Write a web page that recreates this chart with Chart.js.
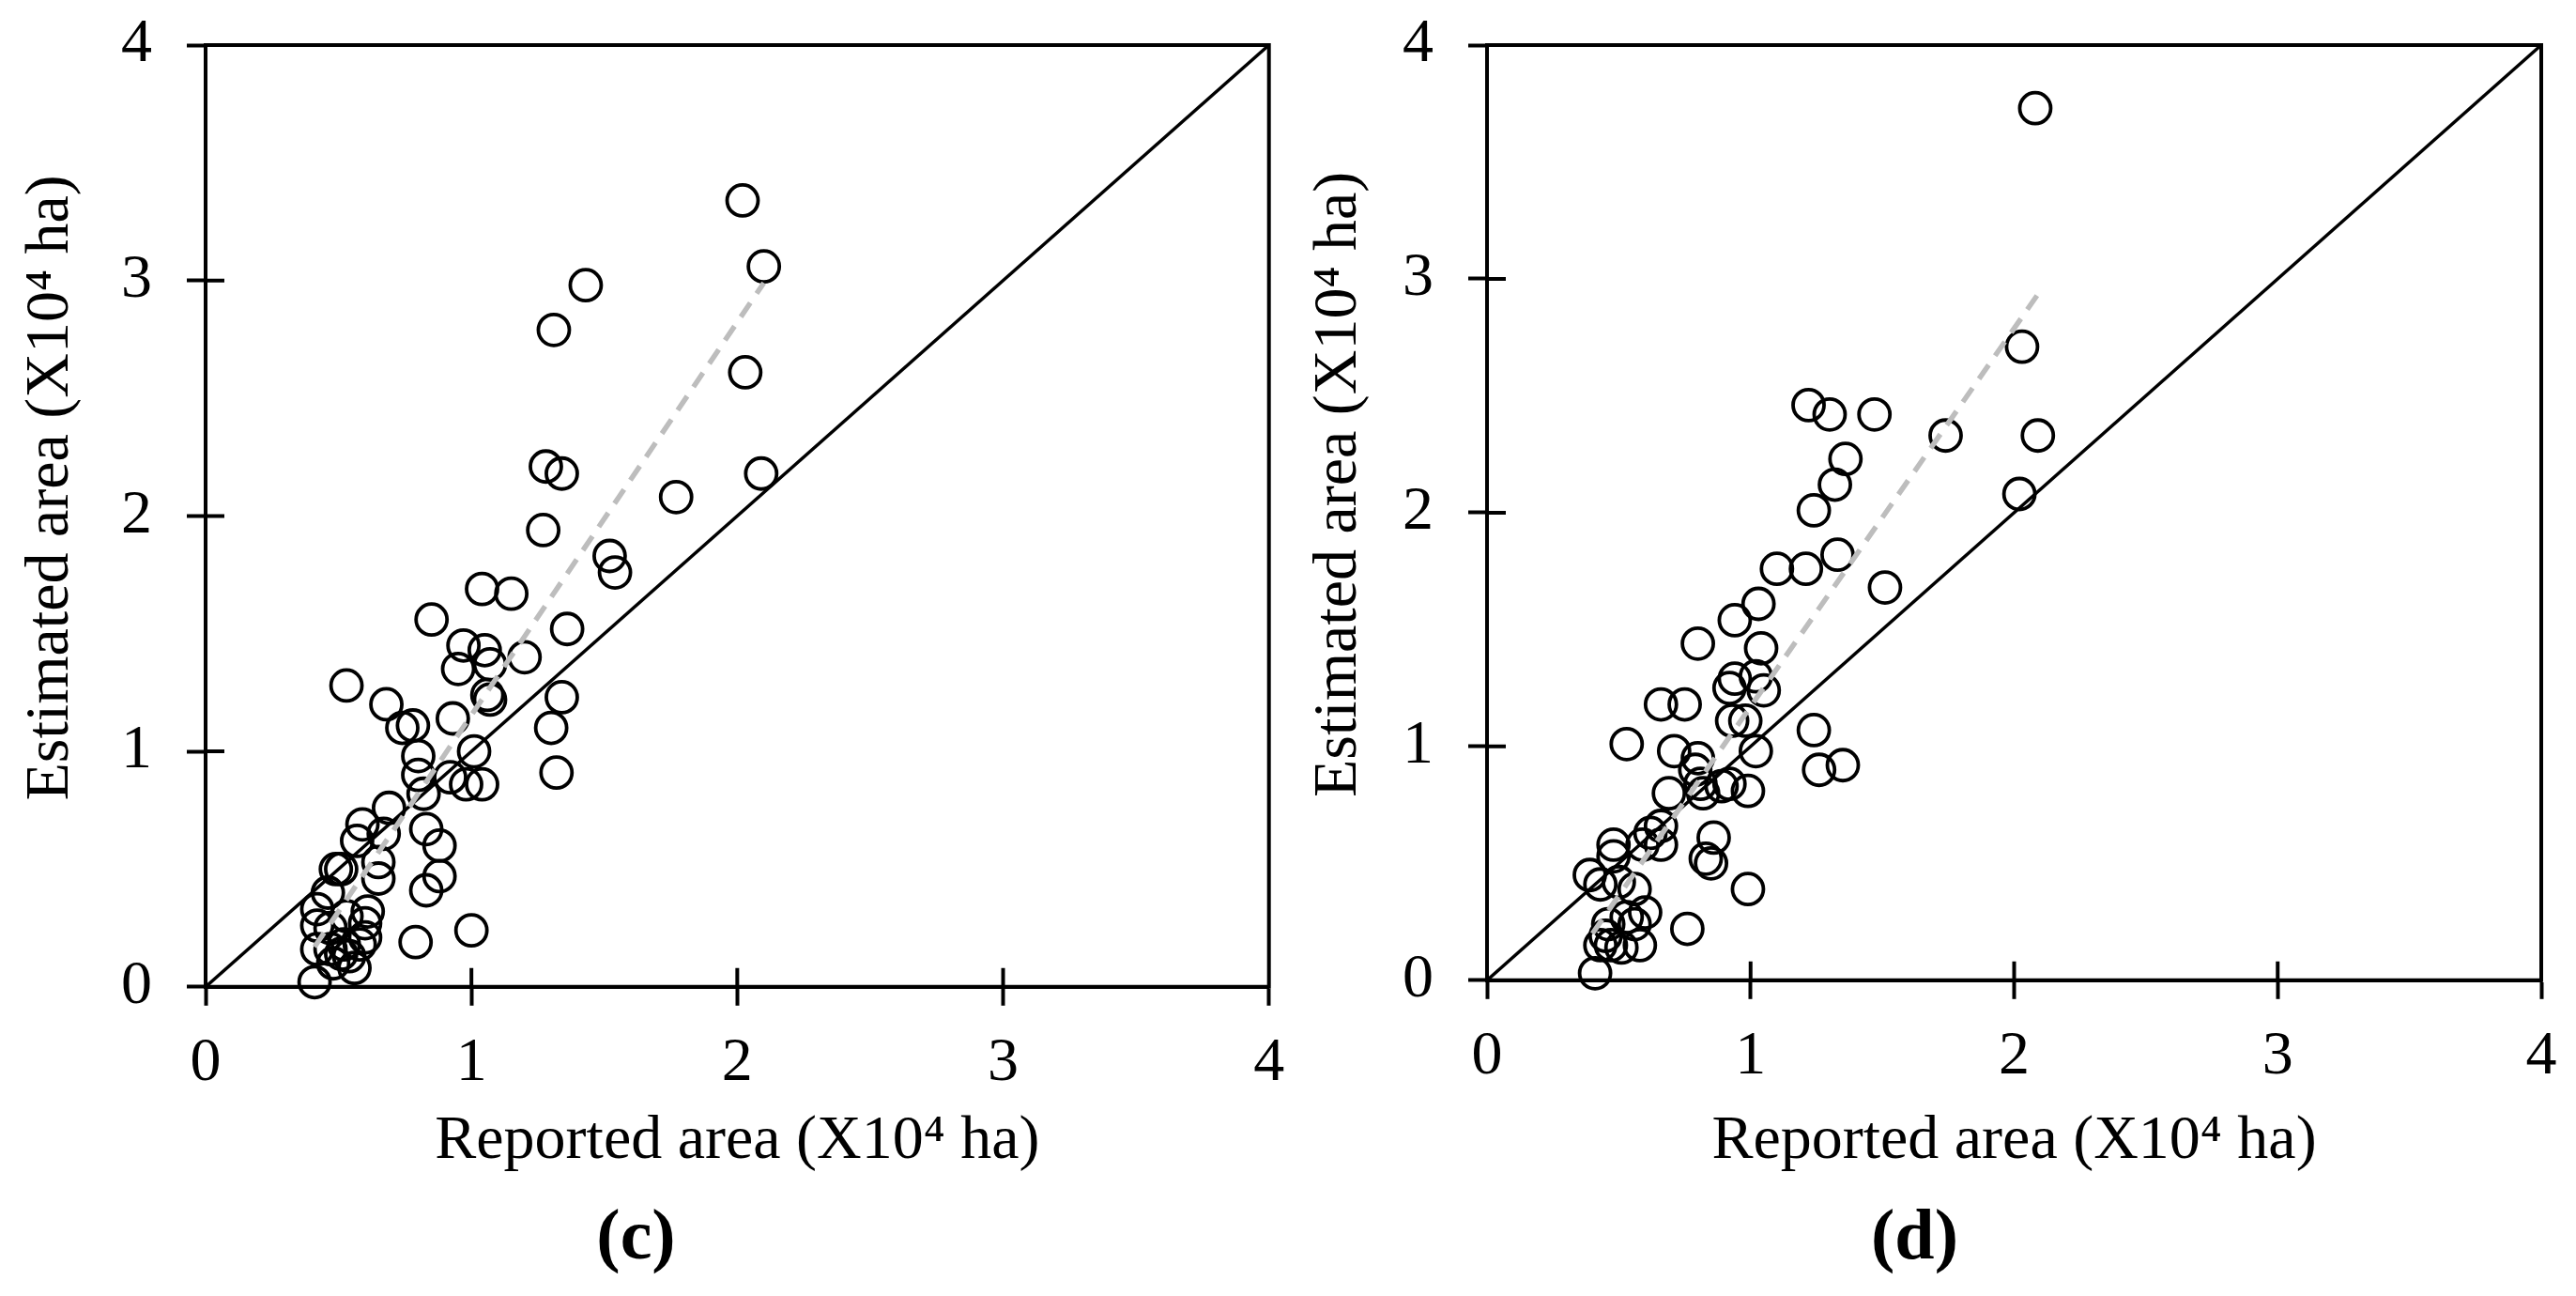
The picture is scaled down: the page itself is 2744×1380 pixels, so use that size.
<!DOCTYPE html>
<html>
<head>
<meta charset="utf-8">
<title>Reported vs estimated area</title>
<script src="https://cdn.jsdelivr.net/npm/chart.js@4.4.1/dist/chart.umd.min.js"></script>
<style>
  html, body { margin: 0; padding: 0; background: #fff; }
  .wrap { display: flex; width: 2744px; height: 1380px; }
  canvas { display: block; }
</style>
</head>
<body>
<div class="wrap">
  <canvas id="chartC" width="1372" height="1380"></canvas>
  <canvas id="chartD" width="1372" height="1380"></canvas>
</div>
<script>
// panel (c)
const reportedC = [2.02, 2.10, 1.43, 1.31, 2.03, 1.28, 1.34, 2.09, 1.77, 1.27,
  1.52, 1.54, 1.04, 1.15, 0.85, 1.36, 0.97, 1.05, 0.95, 1.07,
  1.20, 0.53, 1.06, 1.07, 1.34, 0.68, 0.93, 0.78, 0.74, 1.30,
  0.80, 1.01, 1.32, 0.80, 0.92, 0.98, 1.04, 0.82, 0.69, 0.83,
  0.59, 0.67, 0.57, 0.88, 0.65, 0.65, 0.51, 0.49, 0.88, 0.83,
  0.46, 0.42, 0.61, 0.42, 0.60, 1.00, 0.79, 0.42, 0.47, 0.52,
  0.58, 0.60, 0.51, 0.54, 0.48, 0.56, 0.41, 0.47, 0.53];
const estimatedC = [3.34, 3.06, 2.98, 2.79, 2.61, 2.21, 2.18, 2.18, 2.08, 1.94,
  1.83, 1.76, 1.69, 1.67, 1.56, 1.52, 1.45, 1.43, 1.35, 1.37,
  1.40, 1.28, 1.24, 1.22, 1.23, 1.20, 1.14, 1.11, 1.10, 1.10,
  0.98, 1.00, 0.91, 0.90, 0.89, 0.86, 0.86, 0.82, 0.76, 0.67,
  0.69, 0.65, 0.62, 0.60, 0.53, 0.46, 0.50, 0.50, 0.47, 0.41,
  0.40, 0.33, 0.32, 0.26, 0.27, 0.24, 0.19, 0.16, 0.16, 0.18,
  0.18, 0.21, 0.14, 0.13, 0.10, 0.08, 0.02, 0.25, 0.30];
const fitXC = [0.41, 2.10];
const fitYC = [0.17, 2.99];

// panel (d)
const reportedD = [2.08, 2.03, 1.22, 1.30, 1.47, 1.74, 2.09, 1.36, 1.32, 1.24,
  2.02, 1.10, 1.21, 1.33, 1.51, 1.03, 0.94, 0.80, 1.04, 0.94,
  1.02, 0.92, 1.05, 0.66, 0.75, 0.93, 0.98, 1.24, 0.53, 1.02,
  0.71, 0.80, 0.79, 1.26, 1.35, 0.81, 0.92, 0.89, 0.99, 0.82,
  0.69, 0.66, 0.62, 0.66, 0.59, 0.48, 0.48, 0.86, 0.83, 0.85,
  0.39, 0.43, 0.50, 0.56, 0.99, 0.60, 0.53, 0.56, 0.46, 0.76,
  0.45, 0.43, 0.47, 0.51, 0.58, 0.41];
const estimatedD = [3.73, 2.71, 2.46, 2.42, 2.42, 2.33, 2.33, 2.23, 2.12, 2.01,
  2.08, 1.76, 1.76, 1.82, 1.68, 1.61, 1.54, 1.44, 1.42, 1.29,
  1.30, 1.25, 1.24, 1.18, 1.18, 1.11, 1.11, 1.07, 1.01, 0.98,
  0.98, 0.95, 0.90, 0.90, 0.92, 0.84, 0.84, 0.83, 0.81, 0.80,
  0.80, 0.66, 0.63, 0.58, 0.58, 0.58, 0.53, 0.61, 0.52, 0.50,
  0.45, 0.41, 0.42, 0.39, 0.39, 0.29, 0.27, 0.24, 0.24, 0.22,
  0.19, 0.15, 0.15, 0.14, 0.15, 0.03];
const fitXD = [0.40, 2.10];
const fitYD = [0.20, 2.95];

// shared axes
const oneToOne = [0, 4];
const tickValues = [0, 1, 2, 3, 4];
const xTitle = 'Reported area (X10\u2074 ha)';
const yTitle = 'Estimated area (X10\u2074 ha)';

const FONT = '"Liberation Serif", "Times New Roman", serif';
const LINE = 4;

const toPoints = (xs, ys) => xs.map((x, i) => ({ x: x, y: ys[i] }));

// frame, ticks that cross the axis line, and the y title (sits a bit above centre)
const framePlugin = {
  id: 'framePlugin',
  afterDraw(chart) {
    const { ctx, chartArea: a, scales } = chart;
    ctx.save();
    ctx.strokeStyle = '#000';
    ctx.lineWidth = LINE;
    ctx.beginPath();
    ctx.rect(a.left, a.top, a.right - a.left, a.bottom - a.top);
    tickValues.forEach(v => {
      const px = scales.x.getPixelForValue(v);
      ctx.moveTo(px, a.bottom);
      ctx.lineTo(px, a.bottom - 20);
      const py = scales.y.getPixelForValue(v);
      ctx.moveTo(a.left, py);
      ctx.lineTo(a.left + 20, py);
    });
    ctx.stroke();

    ctx.translate(55, (a.top + a.bottom) / 2 - 30);
    ctx.rotate(-Math.PI / 2);
    ctx.font = '66px ' + FONT;
    ctx.fillStyle = '#000';
    ctx.textAlign = 'center';
    ctx.textBaseline = 'middle';
    ctx.fillText(yTitle, 0, 0);
    ctx.restore();
  }
};

function makePanel(id, xs, ys, fitX, fitY, label, yAxisWidth, xAxisHeight, rightPad) {
  const axis = size => ({
    type: 'linear',
    min: 0,
    max: 4,
    afterFit: s => {
      size(s);
      s.paddingTop = 0;
      s.paddingBottom = 0;
      s.paddingLeft = 0;
      s.paddingRight = 0;
    },
    afterBuildTicks: s => { s.ticks = tickValues.map(v => ({ value: v })); },
    ticks: {
      color: '#000',
      font: { family: FONT, size: 66 },
      padding: 0
    },
    grid: {
      drawOnChartArea: false,
      drawTicks: true,
      tickLength: 20,
      tickWidth: LINE,
      tickColor: '#000'
    },
    border: { display: true, color: '#000', width: LINE }
  });

  const xAxis = axis(s => { s.height = xAxisHeight; });
  xAxis.ticks.padding = 22;
  xAxis.title = {
    display: true,
    text: xTitle,
    color: '#000',
    font: { family: FONT, size: 66, lineHeight: 1.2 },
    padding: 0
  };
  const yAxis = axis(s => { s.width = yAxisWidth; });
  yAxis.ticks.padding = 37;

  return new Chart(document.getElementById(id), {
    type: 'scatter',
    data: {
      datasets: [
        {
          data: toPoints(xs, ys),
          pointStyle: 'circle',
          pointRadius: 16.5,
          pointHoverRadius: 16.5,
          pointBorderWidth: 3.8,
          pointBorderColor: '#000',
          pointBackgroundColor: 'rgba(0,0,0,0)',
          clip: false,
          order: 3
        },
        {
          type: 'line',
          data: toPoints(oneToOne, oneToOne),
          borderColor: '#000',
          borderWidth: 3.5,
          pointRadius: 0,
          order: 2
        },
        {
          type: 'line',
          data: toPoints(fitX, fitY),
          borderColor: '#bdbdbd',
          borderWidth: 5.5,
          borderDash: [18, 12],
          pointRadius: 0,
          order: 1
        }
      ]
    },
    options: {
      responsive: false,
      devicePixelRatio: 1,
      animation: false,
      events: [],
      layout: { padding: { top: 48, left: 0, right: rightPad, bottom: 0 } },
      scales: { x: xAxis, y: yAxis },
      plugins: {
        legend: { display: false },
        tooltip: { enabled: false },
        title: {
          display: true,
          position: 'bottom',
          text: label,
          color: '#000',
          font: { family: FONT, size: 76, weight: 'bold', lineHeight: 1.2 },
          padding: { top: 20, bottom: 14 }
        }
      }
    },
    plugins: [framePlugin]
  });
}

makePanel('chartC', reportedC, estimatedC, fitXC, fitYC, '(c)', 219, 204, 17);
makePanel('chartD', reportedD, estimatedD, fitXD, fitYD, '(d)', 212, 211, 37);
</script>
</body>
</html>
